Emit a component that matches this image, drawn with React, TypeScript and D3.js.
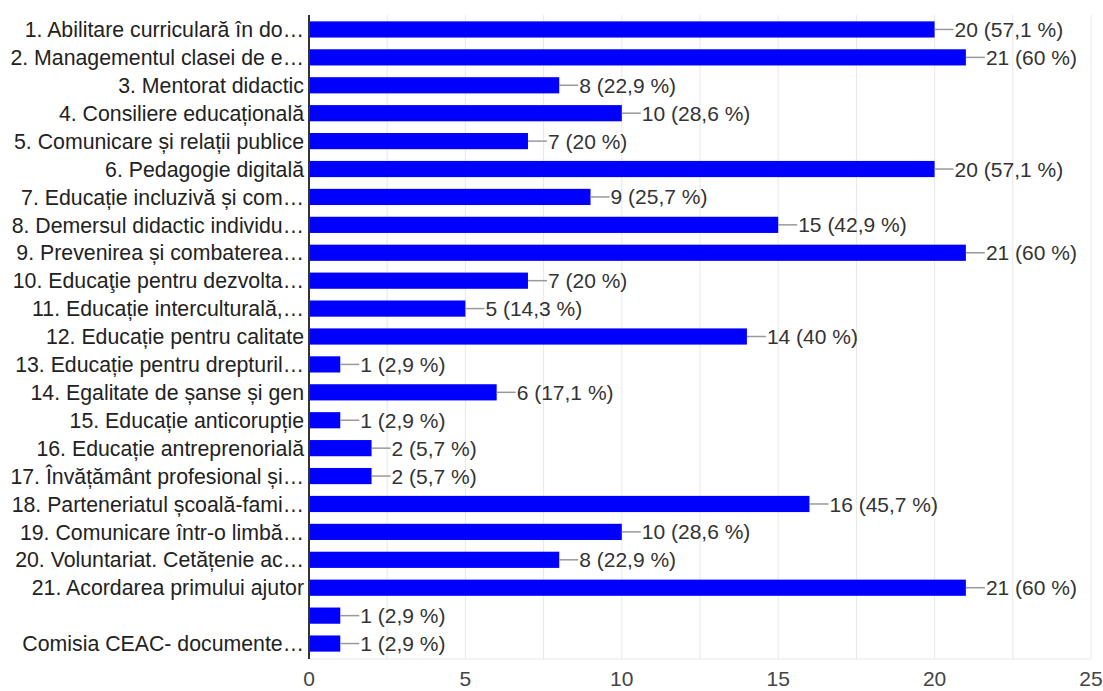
import React, { useEffect, useRef } from 'react';
import * as d3 from 'd3';

const categories = [
  '1. Abilitare curriculară în do…',
  '2. Managementul clasei de e…',
  '3. Mentorat didactic',
  '4. Consiliere educațională',
  '5. Comunicare și relații publice',
  '6. Pedagogie digitală',
  '7. Educație incluzivă și com…',
  '8. Demersul didactic individu…',
  '9. Prevenirea și combaterea…',
  '10. Educaţie pentru dezvolta…',
  '11. Educație interculturală,…',
  '12. Educație pentru calitate',
  '13. Educație pentru drepturil…',
  '14. Egalitate de șanse și gen',
  '15. Educație anticorupție',
  '16. Educație antreprenorială',
  '17. Învățământ profesional și…',
  '18. Parteneriatul școală-fami…',
  '19. Comunicare într-o limbă…',
  '20. Voluntariat. Cetățenie ac…',
  '21. Acordarea primului ajutor',
  '',
  'Comisia CEAC- documente…',
];

const counts = [20, 21, 8, 10, 7, 20, 9, 15, 21, 7, 5, 14, 1, 6, 1, 2, 2, 16, 10, 8, 21, 1, 1];

const percents = [
  '57,1', '60', '22,9', '28,6', '20', '57,1', '25,7', '42,9', '60', '20', '14,3', '40',
  '2,9', '17,1', '2,9', '5,7', '5,7', '45,7', '28,6', '22,9', '60', '2,9', '2,9',
];

const ticks = [0, 5, 10, 15, 20, 25];

const App = () => {
  const ref = useRef<SVGSVGElement>(null);

  useEffect(() => {
    const width = 1103;
    const height = 691;
    const font = '"Liberation Sans", Arial, sans-serif';
    const svg = d3.select(ref.current);
    svg.selectAll('*').remove();

    const x = d3.scaleLinear().domain([0, 25]).range([309, 1091]);
    const y = d3.scaleBand<number>()
      .domain(d3.range(categories.length))
      .range([15.5, 657.5])
      .paddingInner(0.42)
      .paddingOuter(0.21);

    const top = 15;
    const bottom = 659;

    // light grid every 2.5
    svg.append('g')
      .selectAll('line')
      .data(d3.range(2.5, 25.01, 2.5))
      .enter()
      .append('line')
      .attr('x1', d => x(d))
      .attr('x2', d => x(d))
      .attr('y1', top)
      .attr('y2', bottom)
      .attr('stroke', '#e8e8e8')
      .attr('stroke-width', 1);

    svg.append('line')
      .attr('x1', x(0)).attr('x2', x(25))
      .attr('y1', bottom).attr('y2', bottom)
      .attr('stroke', '#e8e8e8');

    const rows = svg.append('g')
      .selectAll('g')
      .data(counts)
      .enter()
      .append('g');

    rows.append('rect')
      .attr('x', x(0))
      .attr('y', (d, i) => y(i)!)
      .attr('width', d => x(d) - x(0))
      .attr('height', y.bandwidth())
      .attr('fill', '#0000ff');

    rows.append('line')
      .attr('x1', d => x(d))
      .attr('x2', d => x(d) + 19)
      .attr('y1', (d, i) => y(i)! + y.bandwidth() / 2)
      .attr('y2', (d, i) => y(i)! + y.bandwidth() / 2)
      .attr('stroke', '#999')
      .attr('stroke-width', 1.5);

    rows.append('text')
      .attr('x', d => x(d) + 20)
      .attr('y', (d, i) => y(i)! + y.bandwidth() / 2)
      .attr('dy', '0.36em')
      .attr('font-family', font)
      .attr('font-size', 21)
      .attr('fill', '#333')
      .text((d, i) => `${d} (${percents[i]} %)`);

    svg.append('g')
      .selectAll('text')
      .data(categories)
      .enter()
      .append('text')
      .attr('x', 304)
      .attr('y', (d, i) => y(i)! + y.bandwidth() / 2)
      .attr('dy', '0.36em')
      .attr('text-anchor', 'end')
      .attr('font-family', font)
      .attr('font-size', 21.3)
      .attr('fill', '#222')
      .text(d => d);

    svg.append('line')
      .attr('x1', x(0)).attr('x2', x(0))
      .attr('y1', top).attr('y2', bottom)
      .attr('stroke', '#333')
      .attr('stroke-width', 2);

    svg.append('g')
      .selectAll('text')
      .data(ticks)
      .enter()
      .append('text')
      .attr('x', d => x(d))
      .attr('y', 686)
      .attr('text-anchor', 'middle')
      .attr('font-family', font)
      .attr('font-size', 21)
      .attr('fill', '#444')
      .text(d => d);

    svg.attr('width', width).attr('height', height);
  }, []);

  return (
    <svg
      ref={ref}
      width={1103}
      height={691}
      style={{ position: 'absolute', left: 0, top: 0, background: '#fff' }}
    />
  );
};

export default App;
